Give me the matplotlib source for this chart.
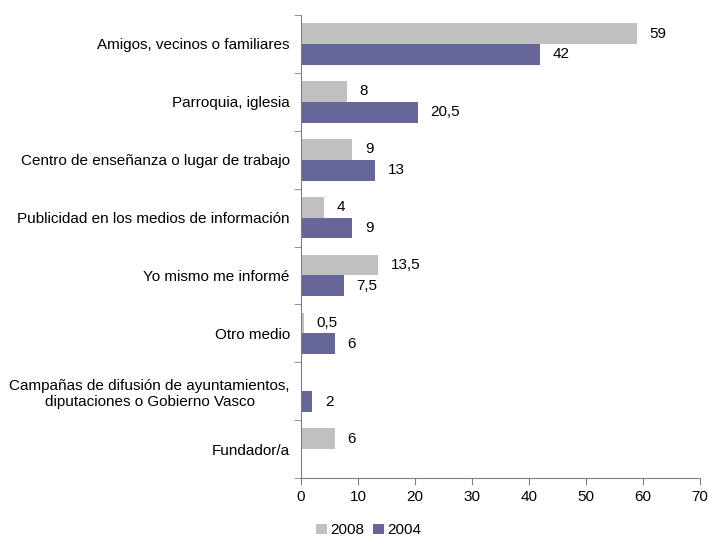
import matplotlib
matplotlib.use("Agg")
import matplotlib.pyplot as plt
import numpy as np

categories = [
    "Amigos, vecinos o familiares",
    "Parroquia, iglesia",
    "Centro de enseñanza o lugar de trabajo",
    "Publicidad en los medios de información",
    "Yo mismo me informé",
    "Otro medio",
    "Campañas de difusión de ayuntamientos,\ndiputaciones o Gobierno Vasco",
    "Fundador/a",
]
v2008 = [59, 8, 9, 4, 13.5, 0.5, None, 6]
v2004 = [42, 20.5, 13, 9, 7.5, 6, 2, None]
series_names = ["2008", "2004"]
colors = ["#C0C0C0", "#666699"]

plt.rcParams["font.family"] = ["Liberation Sans", "DejaVu Sans"]
FS = 11

fig = plt.figure(figsize=(7.09, 5.38), dpi=100)
ax = fig.add_axes([0.4245, 0.1115, 0.5625, 0.8605])

n = len(categories)
y = np.arange(n)
h = 0.36


def fmt(v):
    return f"{v:g}".replace(".", ",")


for vals, off, col, name in [(v2008, -h / 2, colors[0], series_names[0]),
                             (v2004, h / 2, colors[1], series_names[1])]:
    arr = np.array([np.nan if v is None else v for v in vals], dtype=float)
    ax.barh(y + off, np.nan_to_num(arr), height=h, color=col, label=name)
    for yi, v in zip(y, vals):
        if v is None:
            continue
        ax.text(v + 2.2, yi + off, fmt(v), va="center", ha="left", fontsize=FS)

ax.set_xlim(0, 70)
ax.set_ylim(n - 0.5, -0.5)
ax.set_xticks(range(0, 71, 10))
ax.set_yticks(y)
ax.set_yticklabels(categories, fontsize=FS, multialignment="center")
ax.tick_params(axis="y", length=0, pad=8)
ax.set_yticks(np.arange(-0.5, n, 1), minor=True)
ax.tick_params(axis="y", which="minor", length=5, color="#808080", direction="out")
ax.tick_params(axis="x", length=5, color="#808080", direction="out", labelsize=FS)

for s in ["top", "right"]:
    ax.spines[s].set_visible(False)
for s in ["left", "bottom"]:
    ax.spines[s].set_color("#808080")

handles, labels = ax.get_legend_handles_labels()
fig.legend(handles, labels, loc="center", bbox_to_anchor=(0.52, 0.014), ncol=2,
           frameon=False, fontsize=FS, handlelength=0.7, handleheight=0.7,
           columnspacing=0.6, handletextpad=0.2, borderpad=0)

fig.savefig("out.png", dpi=100)
